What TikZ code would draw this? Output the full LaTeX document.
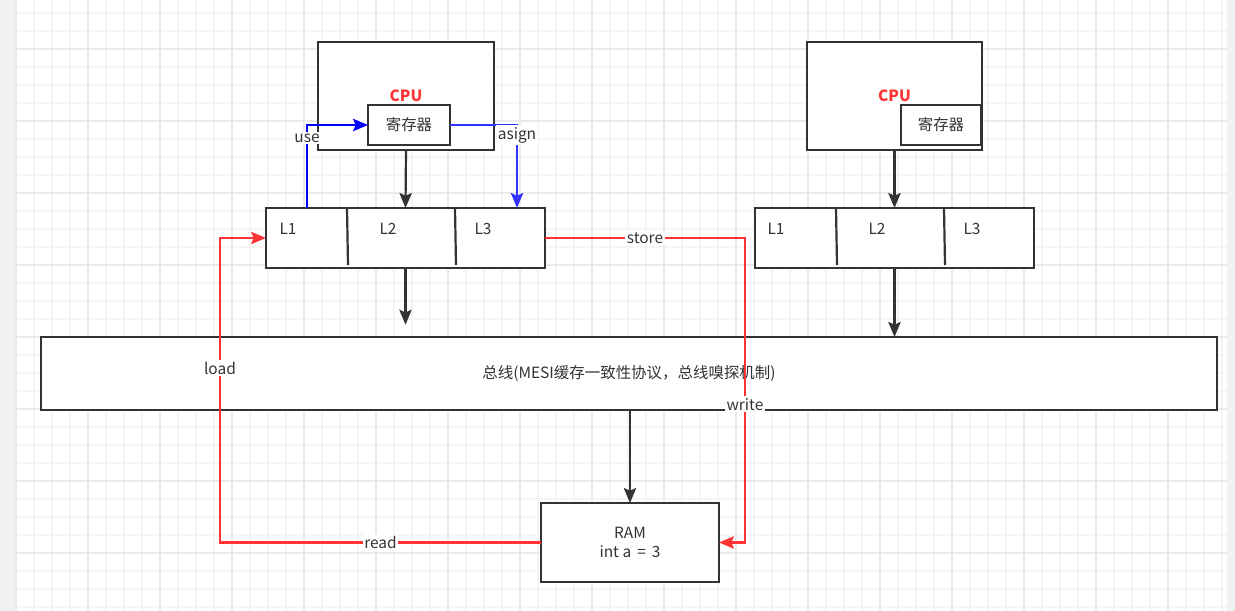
\documentclass[tikz,border=0pt]{standalone}
\usepackage{fontspec}
\setmainfont{Noto Sans CJK SC}
\usepackage{tikz}
\usepackage{xcolor}
\usetikzlibrary{arrows.meta}
\definecolor{darkline}{HTML}{333333}
\definecolor{redline}{HTML}{FF3333}
\definecolor{blueline}{HTML}{0000FF}
\definecolor{lightblue}{HTML}{3333FF}
\definecolor{gridminor}{HTML}{F5F5F5}
\definecolor{gridmajor}{HTML}{EAEAEA}
\definecolor{sidegray}{HTML}{F1F1F1}

\begin{document}
\begin{tikzpicture}[x=0.02cm, y=-0.02cm,
  every node/.style={font=\fontsize{8.8pt}{10.5pt}\selectfont, text=darkline},
  box/.style={draw=darkline, line width=1.25pt, fill=white, inner sep=0pt, outer sep=0pt},
  darkarrow/.style={draw=darkline, line width=1.25pt, -{Stealth[length=8.5pt,width=7pt,inset=1.5pt]}},
  redarrow/.style={draw=redline, line width=1.25pt, -{Stealth[length=8.5pt,width=7pt,inset=1.5pt]}},
  edgelabel/.style={fill=white, inner sep=1pt}]
\useasboundingbox (0,0) rectangle (1235,611);
\fill[sidegray] (0,0) rectangle (16,611);
\fill[sidegray] (1227,0) rectangle (1235,611);
\foreach \k in {0,...,67}
  \draw[gridminor, line width=0.6pt] (16+18*\k,0) -- (16+18*\k,611);
\foreach \k in {0,...,33}
  \draw[gridminor, line width=0.6pt] (16,13+18*\k) -- (1227,13+18*\k);
\foreach \k in {0,...,16}
  \draw[gridmajor, line width=0.6pt] (16+72*\k,0) -- (16+72*\k,611);
\foreach \k in {0,...,8}
  \draw[gridmajor, line width=0.6pt] (16,49+72*\k-72) -- (1227,49+72*\k-72);
%
\node (cpuA) [box, minimum width=3.52cm, minimum height=2.16cm,
  font=\fontsize{8.8pt}{10.5pt}\selectfont\bfseries, text=redline] at (406,96) {CPU};
\node (regA) [box, minimum width=1.64cm, minimum height=0.8cm] at (409,125) {寄存器};
\node (cpuB) [box, minimum width=3.5cm, minimum height=2.16cm,
  font=\fontsize{8.8pt}{10.5pt}\selectfont\bfseries, text=redline] at (894.5,96) {CPU};
\node (regB) [box, minimum width=1.6cm, minimum height=0.8cm] at (941,125) {寄存器};

\node (cacheA) [box, minimum width=5.58cm, minimum height=1.2cm] at (405.5,238) {};
\node (cacheB) [box, minimum width=5.58cm, minimum height=1.2cm] at (894.5,238) {};
\draw[darkline, line width=1.25pt] (347,208) -- (348,265);
\draw[darkline, line width=1.25pt] (455,208) -- (456,265);
\draw[darkline, line width=1.25pt] (836,208) -- (837,265);
\draw[darkline, line width=1.25pt] (944,208) -- (945,265);
\node (lA1) at (288,229) {L1};
\node (lA2) at (388,229) {L2};
\node (lA3) at (483,229) {L3};
\node (lB1) at (776,229) {L1};
\node (lB2) at (877,229) {L2};
\node (lB3) at (972,229) {L3};

\node (bus) [box, minimum width=23.52cm, minimum height=1.46cm] at (629,373.5)
  {总线(MESI缓存一致性协议，总线嗅探机制)};
\node (ram) [box, minimum width=3.56cm, minimum height=1.58cm, align=center] at (630,542.5)
  {RAM\\int a \,=\, 3};

\coordinate (useA) at (307,208);
\coordinate (asignA) at (517,208);
\coordinate (storeA) at (745,238);
\coordinate (loadA) at (220,238);

\draw[darkarrow] (cpuA.south) -- (cacheA.north);
\draw[darkarrow, shorten >=7pt] (cacheA.south) -- (cacheA.south |- bus.north);
\draw[darkarrow] (cpuB.south) -- (cacheB.north);
\draw[darkarrow] (cacheB.south) -- (cacheB.south |- bus.north);
\draw[darkarrow] (bus.south -| ram.north) -- (ram.north);

\draw[draw=blueline, line width=1.25pt, -{Stealth[length=8.5pt,width=7pt,inset=1.5pt]}]
  (useA) |- node[edgelabel, pos=0.42] {use} (regA.west);
\draw[draw=lightblue, line width=1.25pt, -{Stealth[length=8.5pt,width=7pt,inset=1.5pt]}]
  (regA.east) -| node[edgelabel, pos=0.56] {asign} (asignA);
\draw[redarrow] (cacheA.east) -- node[edgelabel] {store} (storeA)
  |- node[edgelabel, pos=0.273] {write} (ram.east);
\draw[redarrow] (ram.west) -| node[edgelabel, pos=0.25] {read} (loadA)
  -- (cacheA.west);
\path (ram.west) -| node[edgelabel, pos=0.786] {load} (loadA);
\end{tikzpicture}
\end{document}
